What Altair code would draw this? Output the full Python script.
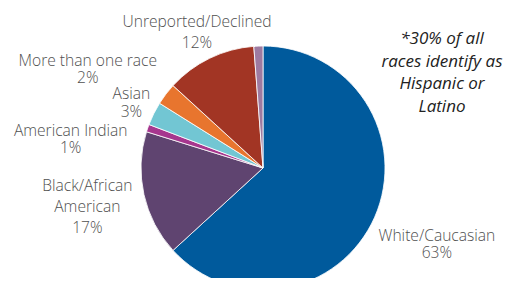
import altair as alt
import pandas as pd

categories = ["White/Caucasian", "Black/African American", "American Indian", "Asian",
              "More than one race", "Unreported/Declined", "Other"]
values = [63.2, 16.6, 1.0, 3.1, 2.9, 12.0, 1.2]
pct_labels = ["63%", "17%", "1%", "3%", "2%", "12%", ""]
label_text = ["White/Caucasian", "Black/African\nAmerican", "American Indian", "Asian",
              "More than one race", "Unreported/Declined", ""]
colors = ["#005A9C", "#5F4470", "#A6368E", "#72C6D3", "#E8752E", "#A23524", "#9E7AA0"]
note_lines = "*30% of all\nraces identify as\nHispanic or\nLatino"

df = pd.DataFrame({
    "category": categories,
    "value": values,
    "order": list(range(len(categories))),
    "label": [f"{t}\n{p}" if t else "" for t, p in zip(label_text, pct_labels)],
})

total = sum(values)
theta_scale = alt.Scale(domain=[0, total])

pie = alt.Chart(df).mark_arc(outerRadius=122, stroke="white", strokeWidth=0.8).encode(
    theta=alt.Theta("value:Q", stack=True, scale=theta_scale),
    color=alt.Color("category:N", scale=alt.Scale(domain=categories, range=colors), legend=None),
    order=alt.Order("order:Q"),
)

# label placement style: radius, dx, dy, lineHeight
label_style = {
    "White/Caucasian": (190, 0, -9, 17),
    "Black/African American": (180, 0, -21, 21),
    "American Indian": (195, -8, 27, 17),
    "Asian": (147, 0, -9, 18),
    "More than one race": (200, -16, 14, 17),
    "Unreported/Declined": (151, 0, -10.5, 21),
}

layers = [pie]
for cat, (r, dx, dy, lh) in label_style.items():
    t = alt.Chart(df).transform_stack(
        stack="value", groupby=[], as_=["v0", "v1"], sort=[alt.SortField("order")]
    ).transform_calculate(
        mid="(datum.v0 + datum.v1) / 2"
    ).transform_filter(
        alt.datum.category == cat
    ).mark_text(
        radius=r, dx=dx, dy=dy, lineBreak="\n", lineHeight=lh,
        font="Open Sans", fontSize=15.6, fontWeight=300, color="#505050",
        align="center", baseline="middle",
    ).encode(
        theta=alt.Theta("mid:Q", scale=theta_scale),
        text="label:N",
    )
    layers.append(t)

note = alt.Chart(pd.DataFrame({"note": [note_lines]})).mark_text(
    font="Open Sans", fontSize=17, fontStyle="italic", color="#222222",
    lineBreak="\n", lineHeight=22.7, align="center", baseline="middle",
).encode(
    x=alt.value(424), y=alt.value(-19), text="note:N"
)
layers.append(note)

chart = alt.layer(*layers).properties(
    width=490, height=220,
    padding={"left": 10, "top": 50, "right": 0, "bottom": 0},
    autosize=alt.AutoSizeParams(type="none"),
).configure_view(stroke=None)

chart.save("out.html", embed_options={"renderer": "svg", "actions": False})
